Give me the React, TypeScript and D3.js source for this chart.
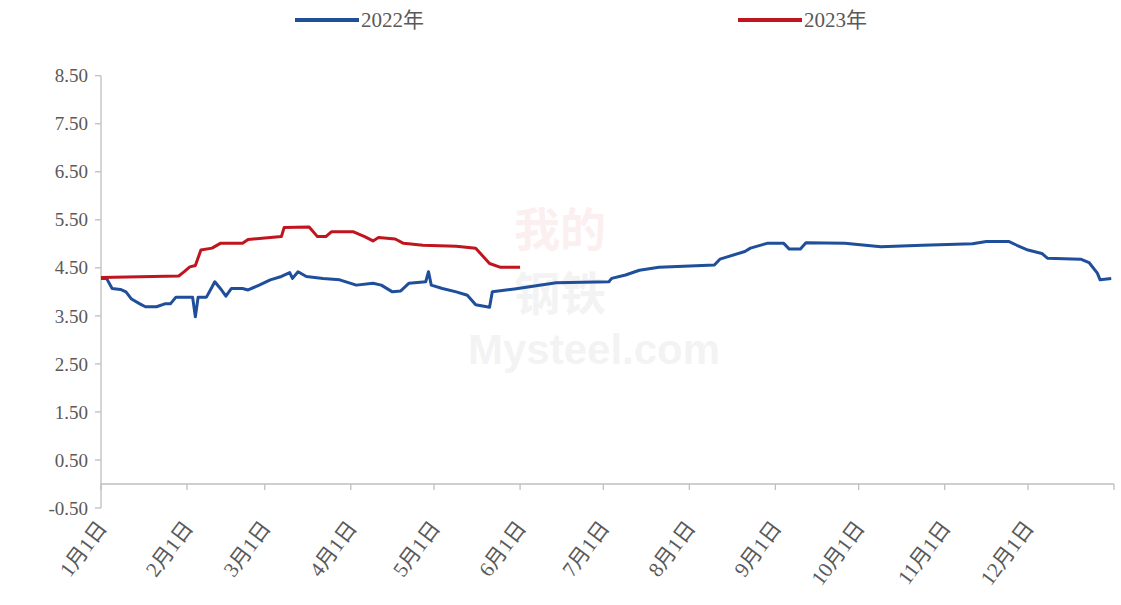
import React from "react";
import * as d3 from "d3";

// ---- data ----
const yTicks = [-0.5, 0.5, 1.5, 2.5, 3.5, 4.5, 5.5, 6.5, 7.5, 8.5];
const monthLabels = ["1月1日", "2月1日", "3月1日", "4月1日", "5月1日", "6月1日", "7月1日", "8月1日", "9月1日", "10月1日", "11月1日", "12月1日"];
const seriesNames = ["2022年", "2023年"];

const dates2022 = [
  "01-01", "01-03", "01-05", "01-08", "01-10", "01-12", "01-15", "01-17", "01-21", "01-24", "01-26", "01-28",
  "02-02", "02-03", "02-04", "02-05", "02-08", "02-10", "02-11", "02-13", "02-15", "02-17", "02-21", "02-23", "02-27",
  "03-03", "03-07", "03-10", "03-11", "03-13", "03-16", "03-22", "03-28",
  "04-03", "04-09", "04-12", "04-16", "04-19", "04-22", "04-28", "04-29", "04-30",
  "05-04", "05-09", "05-13", "05-16", "05-21", "05-22", "05-30",
  "06-14", "07-03", "07-04", "07-09", "07-14", "07-21",
  "08-10", "08-12", "08-21", "08-23", "08-29",
  "09-04", "09-06", "09-10", "09-12", "09-26",
  "10-09", "10-24", "11-11", "11-16", "11-24", "11-27",
  "12-01", "12-06", "12-08", "12-20", "12-23", "12-26", "12-27", "12-31",
];
const values2022 = [
  4.28, 4.28, 4.07, 4.05, 4.0, 3.85, 3.75, 3.69, 3.69, 3.75, 3.75, 3.89,
  3.89, 3.89, 3.48, 3.89, 3.89, 4.1, 4.21, 4.07, 3.91, 4.07, 4.07, 4.04, 4.14,
  4.25, 4.32, 4.4, 4.28, 4.42, 4.32, 4.28, 4.25,
  4.14, 4.18, 4.14, 4.0, 4.02, 4.18, 4.21, 4.42, 4.14,
  4.07, 4.0, 3.93, 3.73, 3.68, 4.0, 4.06,
  4.19, 4.21, 4.28, 4.35, 4.45, 4.51,
  4.56, 4.68, 4.84, 4.91, 5.01,
  5.01, 4.89, 4.89, 5.02, 5.01,
  4.94, 4.97, 5.0, 5.05, 5.05, 4.97,
  4.87, 4.8, 4.7, 4.68, 4.61, 4.39, 4.25, 4.28,
];

const dates2023 = [
  "01-01", "01-29", "01-31", "02-02", "02-04", "02-06", "02-10", "02-13", "02-21", "02-23",
  "03-07", "03-08", "03-17", "03-20", "03-23", "03-25",
  "04-02", "04-06", "04-09", "04-11", "04-17", "04-20", "04-27",
  "05-09", "05-16", "05-21", "05-25", "06-01",
];
const values2023 = [
  4.3, 4.33, 4.42, 4.52, 4.55, 4.87, 4.91, 5.01, 5.01, 5.09,
  5.15, 5.34, 5.35, 5.15, 5.15, 5.25,
  5.25, 5.15, 5.06, 5.13, 5.1, 5.01, 4.97,
  4.95, 4.91, 4.59, 4.51, 4.51,
];

const colors = ["#1F4E9A", "#C0151E"];

const W = 1121;
const H = 605;
const left = 101;
const right = 1114;
const yTop = 75.7;
const yBottom = 508;

const parse = d3.timeParse("%Y-%m-%d");
const toDate = (md: string) => parse("2022-" + md) as Date;

export default function App() {
  const x = d3
    .scaleTime()
    .domain([new Date(2022, 0, 1), new Date(2023, 0, 1)])
    .range([left, right]);
  const y = d3.scaleLinear().domain([-0.5, 8.5]).range([yBottom, yTop]);

  const line = d3
    .line<[Date, number]>()
    .x((d) => x(d[0]))
    .y((d) => y(d[1]));

  const s2022: [Date, number][] = dates2022.map((d, i) => [toDate(d), values2022[i]]);
  const s2023: [Date, number][] = dates2023.map((d, i) => [toDate(d), values2023[i]]);

  const monthTicks = d3.range(12).map((m) => new Date(2022, m, 1));
  const axisColor = "#BFBFBF";
  const textColor = "#595959";
  const font = "'Liberation Serif', 'Times New Roman', 'Noto Sans CJK SC', serif";

  return (
    <svg width={W} height={H} style={{ position: "absolute", left: 0, top: 0, background: "#fff" }}>
      {/* watermark */}
      <g opacity={0.06} fontFamily="'Noto Sans CJK SC', sans-serif" fontWeight="bold">
        <text x={514} y={246} fontSize={46} fill="#C00000">我的</text>
        <text x={514} y={310} fontSize={46} fill="#404040">钢铁</text>
        <text x={468} y={364} fontSize={42} fill="#404040" fontFamily="Arial, sans-serif">Mysteel.com</text>
      </g>

      {/* y axis */}
      <line x1={left} x2={left} y1={yTop} y2={yBottom} stroke={axisColor} strokeWidth={1.3} />
      {yTicks.map((t) => (
        <g key={t}>
          <line x1={left - 6} x2={left} y1={y(t)} y2={y(t)} stroke={axisColor} strokeWidth={1.3} />
          <text
            x={88}
            y={y(t)}
            dy="0.35em"
            textAnchor="end"
            fontSize={19}
            fill={textColor}
            fontFamily={font}
          >
            {t.toFixed(2)}
          </text>
        </g>
      ))}

      {/* x axis at zero */}
      <line x1={left} x2={right} y1={y(0)} y2={y(0)} stroke={axisColor} strokeWidth={1.3} />
      {[...monthTicks, new Date(2023, 0, 1)].map((d, i) => (
        <line key={i} x1={x(d)} x2={x(d)} y1={y(0)} y2={y(0) + 6} stroke={axisColor} strokeWidth={1.3} />
      ))}
      {monthTicks.map((d, i) => (
        <text
          key={i}
          transform={`translate(${x(d) + 7},${y(0) + 44}) rotate(-53)`}
          textAnchor="end"
          fontSize={21}
          fill={textColor}
          fontFamily={font}
        >
          {monthLabels[i]}
        </text>
      ))}

      {/* lines */}
      <path d={line(s2022) || ""} fill="none" stroke={colors[0]} strokeWidth={3} strokeLinejoin="round" />
      <path d={line(s2023) || ""} fill="none" stroke={colors[1]} strokeWidth={3} strokeLinejoin="round" />

      {/* legend */}
      {[
        { lx: 295, name: seriesNames[0], c: colors[0] },
        { lx: 738, name: seriesNames[1], c: colors[1] },
      ].map((l) => (
        <g key={l.name}>
          <line x1={l.lx} x2={l.lx + 64} y1={20} y2={20} stroke={l.c} strokeWidth={4} />
          <text x={l.lx + 66} y={27} fontSize={21} fill={textColor} fontFamily={font}>
            {l.name}
          </text>
        </g>
      ))}
    </svg>
  );
}
